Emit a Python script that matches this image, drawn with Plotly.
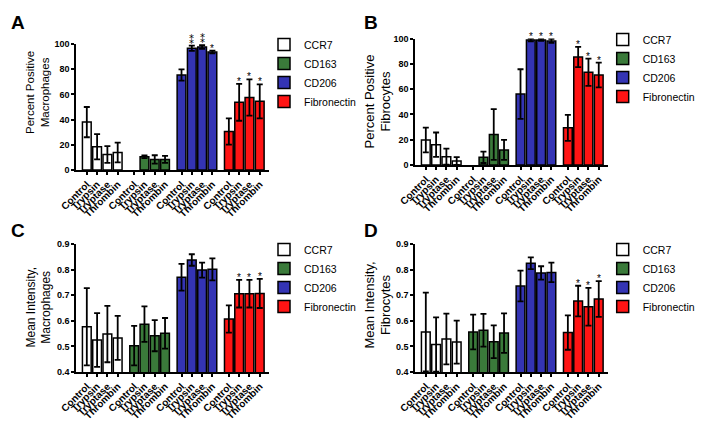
import plotly.graph_objects as go

# ---------------- data ----------------
treatments = ["Control", "Trypsin", "Tryptase", "Thrombin"]
markers = ["CCR7", "CD163", "CD206", "Fibronectin"]
panel_letters = ["A", "B", "C", "D"]
y_titles = ["Percent Positive<br>Macrophages", "Percent Positive<br>Fibrocytes",
            "Mean Intensity,<br>Macrophages", "Mean Intensity,<br>Fibrocytes"]

# Panel A: percent positive macrophages (rows = markers, cols = treatments)
a_mean = [[38.0, 18.5, 12.3, 13.9], [None, 10.5, 8.4, 8.4],
          [75.4, 96.6, 97.6, 93.7], [30.6, 53.7, 57.6, 54.5]]
a_err = [[12.0, 10.0, 6.7, 7.8], [0, 1.0, 3.3, 2.8],
         [4.4, 2.1, 1.4, 1.1], [10.4, 14.6, 14.4, 13.5]]
a_sig = [["", "", "", ""], ["", "", "", ""], ["", "**", "**", "*"], ["", "*", "*", "*"]]

# Panel B: percent positive fibrocytes
b_mean = [[19.8, 16.1, 6.6, 3.2], [None, 6.1, 24.1, 11.9],
          [56.1, 98.9, 98.9, 98.1], [29.4, 85.4, 73.3, 71.2]]
b_err = [[9.8, 9.6, 6.4, 3.1], [0, 4.5, 20.1, 7.9],
         [19.6, 1.1, 0.8, 1.6], [10.3, 8.0, 10.8, 9.8]]
b_sig = [["", "", "", ""], ["", "", "", ""], ["", "*", "*", "*"], ["", "*", "*", "*"]]

# Panel C: mean intensity macrophages
c_mean = [[0.577, 0.525, 0.548, 0.533], [0.503, 0.587, 0.542, 0.551],
          [0.770, 0.8375, 0.798, 0.801], [0.607, 0.706, 0.706, 0.707]]
c_err = [[0.151, 0.105, 0.110, 0.086], [0.077, 0.069, 0.061, 0.060],
         [0.052, 0.0225, 0.029, 0.043], [0.053, 0.054, 0.054, 0.057]]
c_sig = [["", "", "", ""], ["", "", "", ""], ["", "", "", ""], ["", "*", "*", "*"]]

# Panel D: mean intensity fibrocytes
d_mean = [[0.556, 0.507, 0.529, 0.517], [0.556, 0.563, 0.518, 0.552],
          [0.736, 0.825, 0.787, 0.789], [0.554, 0.677, 0.655, 0.685]]
d_err = [[0.154, 0.106, 0.099, 0.084], [0.068, 0.064, 0.064, 0.077],
         [0.060, 0.023, 0.026, 0.038], [0.067, 0.060, 0.074, 0.070]]
d_sig = [["", "", "", ""], ["", "", "", ""], ["", "", "", ""], ["", "*", "*", "*"]]

y_ticks_pct = [0, 20, 40, 60, 80, 100]
y_ticks_int = [0.4, 0.5, 0.6, 0.7, 0.8, 0.9]

# ---------------- style ----------------
FONT = "Liberation Sans, Arial, sans-serif"
colors = ["#ffffff", "#3a7a3a", "#3434b4", "#ff1414"]
W, H = 718, 435
GROUP_STEP = 4.6
X_RANGE = [-1.05, 17.7]

# pixel boxes (left, right, top, bottom) of each plot area
boxes = [(76, 269, 44, 170), (415, 608, 38.5, 165),
         (76, 269, 244, 372), (415, 608, 244, 372)]
legend_pos = [(264, 30), (602.7, 25), (264, 235), (602.7, 235)]
letter_pos = [(18, 23), (371, 23), (18, 231), (371, 231)]
title_pos = [(38, 93), (377.5, 102), (38, 307.5), (377.6, 305)]
title_size = [11.5, 13, 12, 13]

panels = [
    (a_mean, a_err, a_sig, [0, 100], y_ticks_pct, None),
    (b_mean, b_err, b_sig, [0, 100], y_ticks_pct, None),
    (c_mean, c_err, c_sig, [0.4, 0.9], y_ticks_int, ".1f"),
    (d_mean, d_err, d_sig, [0.4, 0.9], y_ticks_int, ".1f"),
]

fig = go.Figure()
annotations = []
layout = {}

for p, (means, errs, sigs, yr, yt, yfmt) in enumerate(panels):
    sfx = "" if p == 0 else str(p + 1)
    xref, yref = "x" + sfx, "y" + sfx
    leg = "legend" + sfx
    tickvals, ticktext = [], []
    for g, mk in enumerate(markers):
        xs = [g * GROUP_STEP + t for t in range(len(treatments))]
        tickvals += xs
        ticktext += treatments
        fig.add_trace(go.Bar(
            x=xs, y=means[g], name=mk, xaxis=xref, yaxis=yref, legend=leg,
            width=0.85, marker=dict(color=colors[g], line=dict(color="black", width=1.5)),
            error_y=dict(type="data", array=errs[g], symmetric=True, color="black",
                         thickness=1.8, width=3),
            hoverinfo="skip",
        ))
        for t in range(len(treatments)):
            s = sigs[g][t]
            if s and means[g][t] is not None:
                txt = "*" if len(s) == 1 else "\u2051"
                annotations.append(dict(
                    x=xs[t], y=means[g][t] + errs[g][t], xref=xref, yref=yref,
                    text=txt, showarrow=False, yanchor="bottom",
                    yshift=-5 if len(s) == 1 else -2,
                    font=dict(family=FONT if len(s) == 1 else "DejaVu Sans",
                              size=10, color="black")))
    l, r, tp, bt = boxes[p]
    layout["xaxis" + sfx] = dict(
        domain=[l / W, r / W], range=X_RANGE, anchor=yref, automargin=False,
        tickmode="array", tickvals=tickvals, ticktext=ticktext, tickangle=-45,
        tickfont=dict(family=FONT, size=10, color="black", weight="bold"),
        showline=True, linecolor="black", linewidth=1.5, ticks="outside",
        ticklen=3, tickwidth=1.5, tickcolor="black", showgrid=False, zeroline=False)
    layout["yaxis" + sfx] = dict(
        domain=[1 - bt / H, 1 - tp / H], range=yr, anchor=xref, automargin=False,
        tickmode="array", tickvals=yt, tickformat=yfmt,
        tickfont=dict(family=FONT, size=9, color="black", weight="bold"),
        showline=True, linecolor="black", linewidth=1.5, ticks="outside",
        ticklen=3, tickwidth=1.5, tickcolor="black", showgrid=False, zeroline=False)
    tx, ty = title_pos[p]
    annotations.append(dict(x=tx / W, y=1 - ty / H, xref="paper", yref="paper",
                            text=y_titles[p], showarrow=False, textangle=-90,
                            xanchor="center", yanchor="middle",
                            font=dict(family=FONT, size=title_size[p], color="black")))
    lx, ly = legend_pos[p]
    layout[leg] = dict(x=lx / W, y=1 - ly / H, xanchor="left", yanchor="top",
                       font=dict(family=FONT, size=10.5, color="black"),
                       bgcolor="rgba(0,0,0,0)", tracegroupgap=0)
    fx, fy = letter_pos[p]
    annotations.append(dict(x=fx / W, y=1 - fy / H, xref="paper", yref="paper",
                            text="<b>%s</b>" % panel_letters[p], showarrow=False,
                            xanchor="center", yanchor="middle",
                            font=dict(family=FONT, size=19, color="black")))

fig.update_layout(
    width=W, height=H, margin=dict(l=0, r=0, t=0, b=0, autoexpand=False),
    paper_bgcolor="white", plot_bgcolor="white", barmode="overlay",
    showlegend=True, annotations=annotations, hovermode=False, **layout)

fig.write_html("out.html", config={"displayModeBar": False},
               post_script="document.body.style.margin='0px';")
